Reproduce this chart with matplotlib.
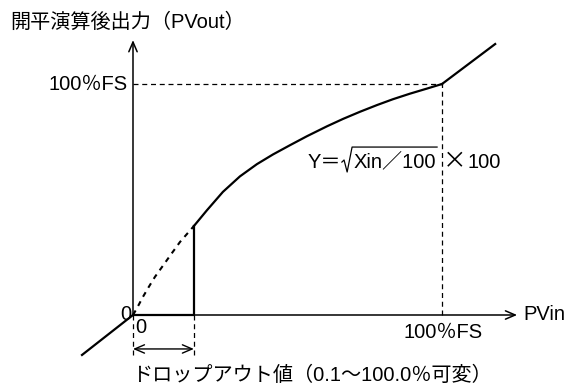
import matplotlib
matplotlib.use('Agg')
import matplotlib.pyplot as plt

plt.rcParams['font.family'] = ['Liberation Sans', 'Noto Sans CJK JP', 'DejaVu Sans']

# PVin (%) -> PVout (%)
LOW_X = [0, 1.3, 3.2, 4.9, 7.1, 9.4, 12.6, 15.2, 19.7]
LOW_Y = [0, 3.0, 7.8, 11.7, 16.5, 20.8, 26.8, 31.6, 38.5]
HIGH_X = [19.7, 23.9, 29.1, 34.6, 40.1, 45.3, 50.8, 56.3, 62.8, 68.0, 73.5, 79.0, 84.1, 89.6, 95.1, 100]
HIGH_Y = [38.5, 45.3, 53.3, 60.0, 65.3, 69.5, 73.5, 77.4, 81.7, 84.9, 88.0, 90.9, 93.4, 95.8, 98.0, 100]
DROPOUT = 19.7
BELOW_X = [-16.5, 0]
BELOW_Y = [-17.3, 0]
ABOVE_X = [100, 117.2]
ABOVE_Y = [100, 117.3]
FS = 100

TITLE = '開平演算後出力（PVout）'
FS_LABEL = '100％FS'
X_LABEL = 'PVin'
DROP_LABEL = 'ドロップアウト値（0.1～100.0％可変）'

fig = plt.figure(figsize=(5.70, 3.87), dpi=100)
ax = fig.add_axes([0, 0, 1, 1])
ax.set_xlim(-43.04, 141.42)
ax.set_ylim(-31.17, 136.36)
ax.axis('off')

thick = 1.6
thin = 1.1
dash = dict(color='black', lw=0.9, linestyle=(0, (4, 3)))

# axes with open arrow heads
arrow = dict(arrowstyle='->,head_length=0.7,head_width=0.3', lw=thin, color='black',
             shrinkA=0, shrinkB=0)
ax.annotate('', xy=(124.3, 0), xytext=(0, 0), arrowprops=arrow)
ax.annotate('', xy=(0, 119), xytext=(0, 0), arrowprops=arrow)

# guide lines at 100%FS
ax.plot([0, FS], [FS, FS], **dash)
ax.plot([FS, FS], [0, FS], **dash)

# curve: dashed below dropout, solid above
ax.plot(LOW_X, LOW_Y, color='black', lw=1.5, linestyle=(0, (2.5, 2.5)))
ax.plot(HIGH_X, HIGH_Y, color='black', lw=thick, solid_joinstyle='round')
ax.plot([0, DROPOUT, DROPOUT], [0, 0, HIGH_Y[0]], color='black', lw=thick)
ax.plot(BELOW_X, BELOW_Y, color='black', lw=thick)
ax.plot(ABOVE_X, ABOVE_Y, color='black', lw=thick)

# dropout bracket
ax.plot([0, 0], [0, -17.3], **dash)
ax.plot([DROPOUT, DROPOUT], [0, -17.3], **dash)
ax.annotate('', xy=(DROPOUT, -14.7), xytext=(0, -14.7),
            arrowprops=dict(arrowstyle='<->,head_length=0.7,head_width=0.3', lw=1.0,
                            color='black', shrinkA=0, shrinkB=0))

fsz = 14.5
ax.text(-39.8, 126.8, TITLE, fontsize=fsz, ha='left', va='center')
ax.text(-1.6, FS, FS_LABEL, fontsize=fsz, ha='right', va='center')
ax.text(-0.6, 0.4, '0', fontsize=fsz, ha='right', va='center')
ax.text(0.65, -5.2, '0', fontsize=fsz, ha='left', va='center')
ax.text(FS + 0.3, -7.4, FS_LABEL, fontsize=fsz, ha='center', va='center')
ax.text(126.2, 0, X_LABEL, fontsize=fsz, ha='left', va='center')
ax.text(57.9, -26, DROP_LABEL, fontsize=fsz, ha='center', va='center')

# formula Y = sqrt(Xin/100) x 100, radical sign drawn as a stroke
ax.text(56.6, 66.2, 'Y＝', fontsize=fsz, ha='left', va='center')
ax.plot([67.6, 68.3, 69.3, 70.9, 98.4], [66.2, 67.1, 61.9, 72.7, 72.7],
        color='black', lw=0.9)
ax.text(71.4, 66.2, 'Xin／100', fontsize=fsz, ha='left', va='center')
ax.text(104.2, 66.2, '×', fontsize=17, family='Noto Sans CJK JP', ha='center', va='center')
ax.text(108.4, 66.2, '100', fontsize=fsz, ha='left', va='center')

fig.savefig('out.png', dpi=100)
